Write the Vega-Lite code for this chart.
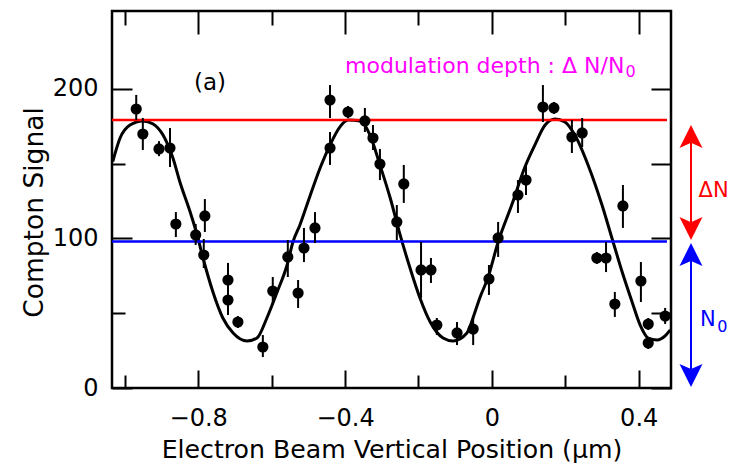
{
  "$schema": "https://vega.github.io/schema/vega-lite/v6.json",
  "width": 559,
  "height": 377,
  "autosize": {"type": "none"},
  "padding": {"left": 112, "top": 11, "right": 59, "bottom": 78},
  "background": "white",
  "config": {
    "view": {"stroke": "black", "strokeWidth": 2.5},
    "font": "DejaVu Sans",
    "axis": {"labelFont": "DejaVu Sans", "titleFont": "DejaVu Sans", "labelColor": "black", "titleColor": "black", "titleFontWeight": "normal", "grid": false, "tickColor": "black", "tickWidth": 2, "domain": false},
    "text": {"font": "DejaVu Sans"}
  },
  "datasets": {
    "curve": [
      {"x": -1.033, "y": 151.3}, {"x": -1.013, "y": 167.1}, {"x": -0.986, "y": 175.8}, {"x": -0.951, "y": 178.5}, {"x": -0.923, "y": 176.5}, {"x": -0.896, "y": 169.1}, {"x": -0.869, "y": 153.7}, {"x": -0.85, "y": 137.7}, {"x": -0.822, "y": 117.6}, {"x": -0.803, "y": 102.3}, {"x": -0.787, "y": 86.9}, {"x": -0.76, "y": 64.2}, {"x": -0.733, "y": 46.8}, {"x": -0.705, "y": 36.8}, {"x": -0.667, "y": 31.4}, {"x": -0.64, "y": 33.4}, {"x": -0.613, "y": 46.8}, {"x": -0.585, "y": 64.2}, {"x": -0.558, "y": 82.2}, {"x": -0.542, "y": 97.6}, {"x": -0.523, "y": 109.0}, {"x": -0.504, "y": 122.3}, {"x": -0.468, "y": 147.1}, {"x": -0.441, "y": 162.4}, {"x": -0.414, "y": 174.5}, {"x": -0.392, "y": 179.1}, {"x": -0.359, "y": 178.5}, {"x": -0.332, "y": 169.1}, {"x": -0.305, "y": 149.1}, {"x": -0.277, "y": 127.0}, {"x": -0.25, "y": 102.3}, {"x": -0.223, "y": 80.2}, {"x": -0.196, "y": 60.2}, {"x": -0.168, "y": 44.1}, {"x": -0.133, "y": 33.4}, {"x": -0.106, "y": 31.4}, {"x": -0.068, "y": 36.8}, {"x": -0.046, "y": 50.8}, {"x": -0.033, "y": 60.2}, {"x": -0.011, "y": 73.5}, {"x": 0.017, "y": 97.6}, {"x": 0.054, "y": 122.3}, {"x": 0.09, "y": 147.7}, {"x": 0.117, "y": 162.4}, {"x": 0.145, "y": 175.8}, {"x": 0.172, "y": 179.8}, {"x": 0.199, "y": 177.8}, {"x": 0.226, "y": 169.1}, {"x": 0.262, "y": 149.1}, {"x": 0.3, "y": 122.3}, {"x": 0.327, "y": 100.3}, {"x": 0.355, "y": 77.5}, {"x": 0.382, "y": 57.5}, {"x": 0.404, "y": 42.1}, {"x": 0.426, "y": 33.4}, {"x": 0.45, "y": 32.1}, {"x": 0.472, "y": 34.8}, {"x": 0.486, "y": 38.8}
    ],
    "pts": [
      {"x": -0.969, "y": 186.5, "lo": 179.1, "hi": 195.9}, {"x": -0.951, "y": 169.8, "lo": 159.1, "hi": 180.5}, {"x": -0.907, "y": 159.8, "lo": 155, "hi": 165}, {"x": -0.877, "y": 160.4, "lo": 147.7, "hi": 173.8}, {"x": -0.861, "y": 109.6, "lo": 100.9, "hi": 117.6}, {"x": -0.807, "y": 102.3, "lo": 95.6, "hi": 109.6}, {"x": -0.782, "y": 115.0, "lo": 104.3, "hi": 126.3}, {"x": -0.785, "y": 88.9, "lo": 80.2, "hi": 99.6}, {"x": -0.719, "y": 72.2, "lo": 63.5, "hi": 83.6}, {"x": -0.719, "y": 58.8, "lo": 48.8, "hi": 68.9}, {"x": -0.692, "y": 44.1, "lo": 40.1, "hi": 48.1}, {"x": -0.624, "y": 27.4, "lo": 20.7, "hi": 35.4}, {"x": -0.597, "y": 64.8, "lo": 55.5, "hi": 74.2}, {"x": -0.556, "y": 87.6, "lo": 74.2, "hi": 98.9}, {"x": -0.528, "y": 63.5, "lo": 53.5, "hi": 72.2}, {"x": -0.512, "y": 93.6, "lo": 84.2, "hi": 107.0}, {"x": -0.482, "y": 107.0, "lo": 96.9, "hi": 117.6}, {"x": -0.441, "y": 192.5, "lo": 180.5, "hi": 202.5}, {"x": -0.441, "y": 160.4, "lo": 149.1, "hi": 171.1}, {"x": -0.392, "y": 184.5, "lo": 180.5, "hi": 188.5}, {"x": -0.346, "y": 178.5, "lo": 171.1, "hi": 187.2}, {"x": -0.324, "y": 167.1, "lo": 159.1, "hi": 175.8}, {"x": -0.305, "y": 149.7, "lo": 139.0, "hi": 159.8}, {"x": -0.259, "y": 111.0, "lo": 98.9, "hi": 122.3}, {"x": -0.24, "y": 136.4, "lo": 123.7, "hi": 149.1}, {"x": -0.193, "y": 78.9, "lo": 60.2, "hi": 97.6}, {"x": -0.166, "y": 78.9, "lo": 70.2, "hi": 86.9}, {"x": -0.15, "y": 42.1, "lo": 35.4, "hi": 46.8}, {"x": -0.095, "y": 36.8, "lo": 28.7, "hi": 44.1}, {"x": -0.051, "y": 39.4, "lo": 28.7, "hi": 46.8}, {"x": -0.008, "y": 72.9, "lo": 62.2, "hi": 82.2}, {"x": 0.017, "y": 100.3, "lo": 87.6, "hi": 111.0}, {"x": 0.071, "y": 129.0, "lo": 117.0, "hi": 139.0}, {"x": 0.093, "y": 139.0, "lo": 129.0, "hi": 149.1}, {"x": 0.139, "y": 187.8, "lo": 177.8, "hi": 202.5}, {"x": 0.169, "y": 187.2, "lo": 183.2, "hi": 191.2}, {"x": 0.218, "y": 167.8, "lo": 157.1, "hi": 179.1}, {"x": 0.246, "y": 170.5, "lo": 161.1, "hi": 180.5}, {"x": 0.286, "y": 86.9, "lo": 82.9, "hi": 90.9}, {"x": 0.311, "y": 86.9, "lo": 77.5, "hi": 97.6}, {"x": 0.335, "y": 56.1, "lo": 47.5, "hi": 64.2}, {"x": 0.357, "y": 121.7, "lo": 107.0, "hi": 135.7}, {"x": 0.406, "y": 71.5, "lo": 57.5, "hi": 84.2}, {"x": 0.426, "y": 42.8, "lo": 38.8, "hi": 46.8}, {"x": 0.426, "y": 30.1, "lo": 26.1, "hi": 34.1}, {"x": 0.472, "y": 48.1, "lo": 42.8, "hi": 53.5}
    ],
    "levels": [
      {"x1": -1.035, "x2": 0.477, "y": 179.1, "series": "dN"},
      {"x1": -1.035, "x2": 0.477, "y": 98.0, "series": "N0"}
    ],
    "shafts": [
      {"x": 0.5425, "y1": 172.5, "y2": 102.3, "series": "dN"},
      {"x": 0.5425, "y1": 92.2, "y2": 5.3, "series": "N0"}
    ],
    "heads": [
      {"x": 0.5425, "y": 168.1, "series": "dN", "dir": "up"},
      {"x": 0.5425, "y": 106.6, "series": "dN", "dir": "down"},
      {"x": 0.5425, "y": 89.2, "series": "N0", "dir": "up"},
      {"x": 0.5425, "y": 8.4, "series": "N0", "dir": "down"}
    ],
    "labels": [
      {"x": -0.4, "y": 210.6, "text": "modulation depth : Δ N/N", "series": "mod"},
      {"x": 0.563, "y": 127.7, "text": "ΔN", "series": "dN"},
      {"x": 0.567, "y": 41.4, "text": "N", "series": "N0"}
    ],
    "subs": [
      {"x": 0.364, "y": 207.9, "text": "0", "series": "mod"},
      {"x": 0.614, "y": 37.4, "text": "0", "series": "N0"}
    ],
    "panel": [
      {"x": -0.768, "y": 199.2, "text": "(a)"}
    ]
  },
  "layer": [
    {
      "data": {"name": "curve"},
      "mark": {"type": "line", "color": "black", "strokeWidth": 3, "interpolate": "monotone"},
      "encoding": {
        "x": {"field": "x", "type": "quantitative", "scale": {"domain": [-1.035, 0.488], "nice": false, "zero": false},
          "axis": {"orient": "bottom", "values": [-1.0, -0.8, -0.6, -0.4, -0.2, 0, 0.2, 0.4], "format": ".1~f",
            "labelExpr": "abs(round(datum.value*10))%4==0 ? datum.label : ''",
            "tickSize": {"condition": {"test": "abs(round(datum.value*10))%4==0", "value": -18}, "value": -13},
            "labelFontSize": 24, "labelPadding": 36, "labelOverlap": false, "labelFlush": false,
            "title": "Electron Beam Vertical Position  (μm)", "titleFontSize": 25.2, "titlePadding": 2}},
        "y": {"field": "y", "type": "quantitative", "scale": {"domain": [0, 252], "nice": false, "zero": false},
          "axis": {"orient": "left", "values": [0, 50, 100, 150, 200],
            "labelExpr": "datum.value%100==0 ? datum.label : ''",
            "tickSize": {"condition": {"test": "datum.value%100==0", "value": -20}, "value": -13},
            "labelFontSize": 24, "labelPadding": 34, "labelOverlap": false, "labelFlush": false,
            "title": "Compton Signal", "titleFontSize": 26.5, "titlePadding": 4, "titleY": 201}}
      }
    },
    {
      "data": {"name": "levels"},
      "mark": {"type": "rule", "strokeWidth": 2.5},
      "encoding": {
        "x": {"field": "x1", "type": "quantitative", "scale": {"domain": [-1.035, 0.488], "nice": false, "zero": false},
          "axis": {"orient": "top", "values": [-1.0, -0.8, -0.6, -0.4, -0.2, 0, 0.2, 0.4], "labels": false, "title": null,
            "tickSize": {"condition": {"test": "abs(round(datum.value*10))%4==0", "value": -23}, "value": -14}}},
        "x2": {"field": "x2"},
        "y": {"field": "y", "type": "quantitative", "scale": {"domain": [0, 252], "nice": false, "zero": false},
          "axis": {"orient": "right", "values": [0, 50, 100, 150, 200], "labels": false, "title": null, "tickSize": -20}},
        "color": {"field": "series", "type": "nominal", "scale": {"domain": ["dN", "N0", "mod"], "range": ["#ff0000", "#0000ff", "#ff00ff"]}, "legend": null}
      }
    },
    {
      "data": {"name": "pts"},
      "mark": {"type": "rule", "color": "black", "strokeWidth": 2},
      "encoding": {
        "x": {"field": "x", "type": "quantitative", "axis": null},
        "y": {"field": "lo", "type": "quantitative", "axis": null},
        "y2": {"field": "hi"}
      }
    },
    {
      "data": {"name": "pts"},
      "mark": {"type": "point", "shape": "circle", "filled": true, "color": "black", "size": 125, "opacity": 1},
      "encoding": {
        "x": {"field": "x", "type": "quantitative", "axis": null},
        "y": {"field": "y", "type": "quantitative", "axis": null}
      }
    },
    {
      "data": {"name": "shafts"},
      "mark": {"type": "rule", "strokeWidth": 2},
      "encoding": {
        "x": {"field": "x", "type": "quantitative", "axis": null},
        "y": {"field": "y1", "type": "quantitative", "axis": null},
        "y2": {"field": "y2"},
        "color": {"field": "series", "type": "nominal", "scale": {"domain": ["dN", "N0", "mod"], "range": ["#ff0000", "#0000ff", "#ff00ff"]}, "legend": null}
      }
    },
    {
      "data": {"name": "heads"},
      "mark": {"type": "point", "filled": true, "size": 529, "opacity": 1, "strokeWidth": 0},
      "encoding": {
        "x": {"field": "x", "type": "quantitative", "axis": null},
        "y": {"field": "y", "type": "quantitative", "axis": null},
        "shape": {"field": "dir", "type": "nominal", "scale": {"domain": ["up", "down"], "range": ["M0,-1L1,1L0,0.55L-1,1Z", "M0,1L1,-1L0,-0.55L-1,-1Z"]}, "legend": null},
        "color": {"field": "series", "type": "nominal", "scale": {"domain": ["dN", "N0", "mod"], "range": ["#ff0000", "#0000ff", "#ff00ff"]}, "legend": null}
      }
    },
    {
      "data": {"name": "labels"},
      "mark": {"type": "text", "align": "left", "baseline": "alphabetic", "fontSize": 21},
      "encoding": {
        "x": {"field": "x", "type": "quantitative", "axis": null},
        "y": {"field": "y", "type": "quantitative", "axis": null},
        "text": {"field": "text"},
        "color": {"field": "series", "type": "nominal", "scale": {"domain": ["dN", "N0", "mod"], "range": ["#ff0000", "#0000ff", "#ff00ff"]}, "legend": null},
        "size": {"condition": {"test": "datum.series=='mod'", "value": 22}, "value": 21}
      }
    },
    {
      "data": {"name": "subs"},
      "mark": {"type": "text", "align": "left", "baseline": "alphabetic", "fontSize": 16},
      "encoding": {
        "x": {"field": "x", "type": "quantitative", "axis": null},
        "y": {"field": "y", "type": "quantitative", "axis": null},
        "text": {"field": "text"},
        "color": {"field": "series", "type": "nominal", "scale": {"domain": ["dN", "N0", "mod"], "range": ["#ff0000", "#0000ff", "#ff00ff"]}, "legend": null}
      }
    },
    {
      "data": {"name": "panel"},
      "mark": {"type": "text", "align": "center", "baseline": "alphabetic", "fontSize": 23, "color": "black"},
      "encoding": {
        "x": {"field": "x", "type": "quantitative", "axis": null},
        "y": {"field": "y", "type": "quantitative", "axis": null},
        "text": {"field": "text"}
      }
    }
  ],
  "resolve": {"axis": {"x": "independent", "y": "independent"}}
}
